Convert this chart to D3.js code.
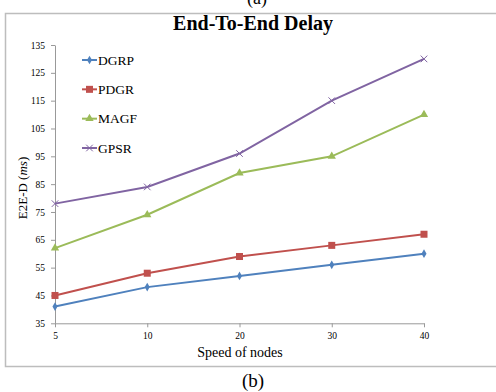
<!DOCTYPE html>
<html>
<head>
<meta charset="utf-8">
<script src="https://cdn.jsdelivr.net/npm/d3@7"></script>
<style>
  body { margin: 0; background: #fff; }
  text { font-family: "Liberation Serif", "Times New Roman", serif; fill: #000; }
</style>
</head>
<body>
<svg id="chart" width="496" height="392"></svg>
<script>
// data
const speeds = ['5', '10', '20', '30', '40'];
const yTicks = [35, 45, 55, 65, 75, 85, 95, 105, 115, 125, 135];
const dgrp = [41, 48, 52, 56, 60];
const pdgr = [45, 53, 59, 63, 67];
const magf = [62, 74, 89, 95, 110];
const gpsr = [78, 84, 96, 115, 130];

const series = [
  { name: 'DGRP', values: dgrp, color: '#4F81BD', marker: 'diamond' },
  { name: 'PDGR', values: pdgr, color: '#C0504D', marker: 'square' },
  { name: 'MAGF', values: magf, color: '#9BBB59', marker: 'triangle' },
  { name: 'GPSR', values: gpsr, color: '#8064A2', marker: 'cross' }
];

const svg = d3.select('#chart');
const area = { left: 55, right: 424, top: 45, bottom: 323.3 };

// outer frame + captions
svg.append('rect')
  .attr('x', 5.5).attr('y', 13.5)
  .attr('width', 500).attr('height', 353)
  .attr('fill', 'none').attr('stroke', '#bdbdbd').attr('stroke-width', 1.5);

svg.append('text').text('(a)')
  .attr('x', 257).attr('y', 4)
  .attr('text-anchor', 'middle').style('font-size', '18px');

svg.append('text').text('(b)')
  .attr('x', 253).attr('y', 387)
  .attr('text-anchor', 'middle').style('font-size', '19px');

svg.append('text').text('End-To-End Delay')
  .attr('x', 253).attr('y', 30)
  .attr('text-anchor', 'middle')
  .style('font-size', '20px').style('font-weight', 'bold');

// scales
const x = d3.scalePoint().domain(speeds).range([area.left, area.right]);
const y = d3.scaleLinear().domain([35, 135]).range([area.bottom, area.top]);

const yAxis = d3.axisLeft(y).tickValues(yTicks).tickSizeInner(4).tickSizeOuter(0).tickPadding(6);
const xAxis = d3.axisBottom(x).tickSizeInner(4).tickSizeOuter(0).tickPadding(5);

const gy = svg.append('g').attr('transform', `translate(${area.left},0)`).call(yAxis);
const gx = svg.append('g').attr('transform', `translate(0,${area.bottom})`).call(xAxis);

[gx, gy].forEach(g => {
  g.select('.domain').attr('stroke', '#999');
  g.selectAll('.tick line').attr('stroke', '#999');
  g.selectAll('.tick text')
    .style('font-family', '"Liberation Serif", serif')
    .style('font-size', '9.5px').attr('fill', '#000');
});

// axis titles
svg.append('text').text('Speed of nodes')
  .attr('x', 240).attr('y', 357)
  .attr('text-anchor', 'middle').style('font-size', '14px');

const yl = svg.append('text')
  .attr('transform', 'translate(27,188) rotate(-90)')
  .attr('text-anchor', 'middle').style('font-size', '13px');
yl.append('tspan').text('E2E-D (');
yl.append('tspan').text('ms').style('font-style', 'italic');
yl.append('tspan').text(')');

// markers
function drawMarker(g, type, color, cx, cy) {
  if (type === 'diamond') {
    g.append('path').attr('d', d3.symbol(d3.symbolDiamond, 22)())
      .attr('transform', `translate(${cx},${cy})`).attr('fill', color);
  } else if (type === 'square') {
    g.append('rect').attr('x', cx - 3.5).attr('y', cy - 3.5)
      .attr('width', 7).attr('height', 7).attr('fill', color);
  } else if (type === 'triangle') {
    g.append('path').attr('d', d3.symbol(d3.symbolTriangle, 30)())
      .attr('transform', `translate(${cx},${cy})`).attr('fill', color);
  } else {
    g.append('path').attr('d', d3.symbol(d3.symbolX, 30)())
      .attr('transform', `translate(${cx},${cy})`)
      .attr('fill', 'none').attr('stroke', color).attr('stroke-width', 1);
  }
}

const line = d3.line().x((d, i) => x(speeds[i])).y(d => y(d));

series.forEach(s => {
  const g = svg.append('g');
  g.append('path').datum(s.values)
    .attr('d', line)
    .attr('fill', 'none').attr('stroke', s.color).attr('stroke-width', 2);
  s.values.forEach((v, i) => drawMarker(g, s.marker, s.color, x(speeds[i]), y(v)));
});

// legend
const legendY = d3.scalePoint().domain(series.map(s => s.name)).range([60, 148]);
series.forEach(s => {
  const g = svg.append('g');
  const ly = legendY(s.name);
  g.append('line').attr('x1', 82).attr('x2', 97).attr('y1', ly).attr('y2', ly)
    .attr('stroke', s.color).attr('stroke-width', 2);
  drawMarker(g, s.marker, s.color, 89.5, ly);
  g.append('text').text(s.name)
    .attr('x', 98).attr('y', ly + 4.5)
    .style('font-size', '13.5px');
});
</script>
</body>
</html>
